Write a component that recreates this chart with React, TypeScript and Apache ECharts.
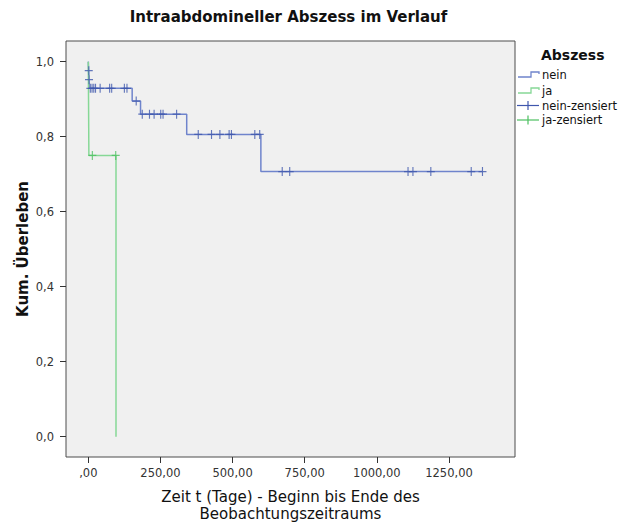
import React, { useEffect, useRef } from "react";
import * as echarts from "echarts";

// Kaplan-Meier "nein" (no abscess): event times and survival after each event
const neinTimes = [0, 1, 2, 3, 152, 181, 341, 598];
const neinSurv = [1, 0.976, 0.952, 0.929, 0.895, 0.86, 0.806, 0.707];
const neinLastTime = 1366;
const neinCensored = [1.5, 2.5, 7, 13, 19, 25, 41, 74, 81, 125, 134, 166, 187, 212, 228, 251, 259, 306, 381, 427, 456, 488, 496, 577, 594, 672, 698, 1108, 1125, 1187, 1327, 1366];

// Kaplan-Meier "ja" (abscess)
const jaTimes = [0, 2, 96];
const jaSurv = [1, 0.75, 0];
const jaLastTime = 96;
const jaCensored = [14, 95];

const xTicks = [0, 250, 500, 750, 1000, 1250];
const yTicks = [0, 0.2, 0.4, 0.6, 0.8, 1.0];

const legendItems = ["nein", "ja", "nein-zensiert", "ja-zensiert"];

const BLUE_LINE = "#6f84cc";
const BLUE_MARK = "#3f57ad";
const GREEN_LINE = "#86d896";
const GREEN_MARK = "#4cc060";
const FONT = "DejaVu Sans";

function stepData(times: number[], surv: number[], end: number) {
  const d = times.map((t, i) => [t, surv[i]]);
  if (end > times[times.length - 1]) d.push([end, surv[surv.length - 1]]);
  return d;
}

function survAt(times: number[], surv: number[], t: number) {
  let s = surv[0];
  for (let i = 0; i < times.length; i++) if (times[i] <= t) s = surv[i];
  return s;
}

const PLUS = "path://M5,0L5,10M0,5L10,5";

export default function App() {
  const ref = useRef<HTMLDivElement>(null);
  useEffect(() => {
    if (!ref.current) return;
    const chart = echarts.init(ref.current, null, { renderer: "svg" });
    const txt = (text: string, x: number, y: number, font: string, align = "left") => ({
      type: "text",
      x,
      y,
      style: { text, font, fill: "#111", align, verticalAlign: "middle", textAlign: align, textVerticalAlign: "middle" },
    });
    const stepIcon = (y: number, color: string) => ({
      type: "polyline",
      shape: { points: [[518, y + 2], [531, y + 2], [531, y - 3], [539, y - 3], [539, y - 1]] },
      style: { stroke: color, lineWidth: 1.3, fill: null },
    });
    const plusIcon = (y: number, color: string) => ({
      type: "group",
      children: [
        { type: "line", shape: { x1: 517, y1: y, x2: 539, y2: y }, style: { stroke: color, lineWidth: 1.2 } },
        { type: "line", shape: { x1: 528, y1: y - 4.5, x2: 528, y2: y + 4.5 }, style: { stroke: color, lineWidth: 1.2 } },
      ],
    });
    chart.setOption({
      animation: false,
      grid: {
        left: 66,
        right: 104,
        top: 41,
        bottom: 67,
        outerBoundsMode: "none",
        containLabel: false,
        show: true,
        backgroundColor: "#f0f0f0",
        borderColor: "#4d4d4d",
        borderWidth: 1,
      },
      xAxis: {
        type: "value",
        min: -77.3,
        max: 1478.7,
        name: "Zeit t (Tage) - Beginn bis Ende des\nBeobachtungszeitraums",
        nameLocation: "middle",
        nameGap: 32,
        nameMoveOverlap: false,
        nameTextStyle: { fontFamily: FONT, fontSize: 15, color: "#111", lineHeight: 16.5 },
        axisLine: { show: false, onZero: false },
        splitLine: { show: false },
        axisTick: { show: true, customValues: xTicks, length: 6, lineStyle: { color: "#333" } },
        axisLabel: {
          customValues: xTicks,
          margin: 10,
          fontFamily: FONT,
          fontSize: 11.5,
          color: "#333",
          formatter: (v: number) => (v === 0 ? ",00" : v.toFixed(2).replace(".", ",")),
        },
      },
      yAxis: {
        type: "value",
        min: -0.054,
        max: 1.055,
        name: "Kum. Überleben",
        nameLocation: "middle",
        nameGap: 36,
        nameMoveOverlap: false,
        nameTextStyle: { fontFamily: FONT, fontSize: 15, fontWeight: "bold", color: "#111" },
        axisLine: { show: false, onZero: false },
        splitLine: { show: false },
        axisTick: { show: true, customValues: yTicks, length: 6, lineStyle: { color: "#333" } },
        axisLabel: {
          customValues: yTicks,
          margin: 12,
          fontFamily: FONT,
          fontSize: 11.5,
          color: "#333",
          formatter: (v: number) => v.toFixed(1).replace(".", ","),
        },
      },
      graphic: [
        txt("Intraabdomineller Abszess im Verlauf", 288.5, 17, `bold 15px '${FONT}'`, "center"),
        txt("Abszess", 541, 55, `bold 14px '${FONT}'`),
        stepIcon(75, BLUE_LINE),
        stepIcon(91, GREEN_LINE),
        plusIcon(105.5, BLUE_MARK),
        plusIcon(120, GREEN_MARK),
        txt(legendItems[0], 542, 75, `11.5px '${FONT}'`),
        txt(legendItems[1], 542, 91, `11.5px '${FONT}'`),
        txt(legendItems[2], 542, 105.5, `11.5px '${FONT}'`),
        txt(legendItems[3], 542, 120, `11.5px '${FONT}'`),
      ],
      series: [
        {
          name: "nein",
          type: "line",
          step: "end",
          symbol: "none",
          data: stepData(neinTimes, neinSurv, neinLastTime),
          lineStyle: { color: BLUE_LINE, width: 1.5 },
          z: 2,
        },
        {
          name: "ja",
          type: "line",
          step: "end",
          symbol: "none",
          data: stepData(jaTimes, jaSurv, jaLastTime),
          lineStyle: { color: GREEN_LINE, width: 1.5 },
          z: 3,
        },
        {
          name: "nein-zensiert",
          type: "scatter",
          symbol: PLUS,
          symbolSize: [8, 9],
          data: neinCensored.map((t) => [t, survAt(neinTimes, neinSurv, t)]),
          itemStyle: { color: "transparent", borderColor: BLUE_MARK, borderWidth: 1.2 },
          z: 4,
        },
        {
          name: "ja-zensiert",
          type: "scatter",
          symbol: PLUS,
          symbolSize: [8, 9],
          data: jaCensored.map((t) => [t, survAt(jaTimes, jaSurv, t)]),
          itemStyle: { color: "transparent", borderColor: GREEN_MARK, borderWidth: 1.2 },
          z: 5,
        },
      ],
    });
    return () => chart.dispose();
  }, []);
  return (
    <div
      ref={ref}
      style={{ position: "fixed", left: 0, top: 0, width: 619, height: 524, background: "#fff" }}
    />
  );
}
